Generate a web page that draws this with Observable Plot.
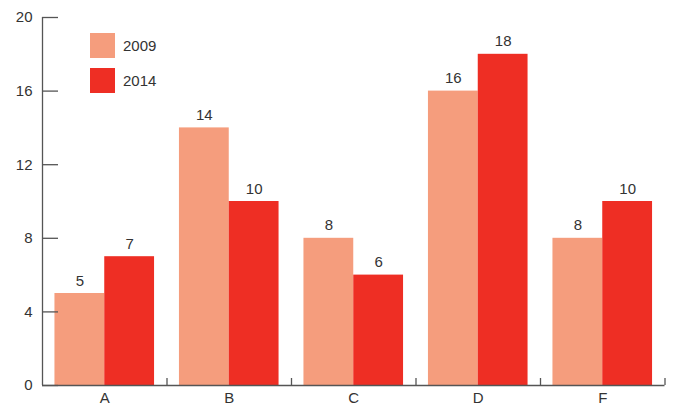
<!DOCTYPE html>
<html>
<head>
<meta charset="utf-8">
<script src="https://cdn.jsdelivr.net/npm/d3@7"></script>
<script src="https://cdn.jsdelivr.net/npm/@observablehq/plot@0.6"></script>
<style>
  body { margin: 0; background: #fff; }
  #wrap { position: relative; width: 673px; height: 408px; font-family: "Liberation Sans", Arial, sans-serif; color: #333; }
  #legend { position: absolute; left: 90px; top: 33px; font-size: 15px; }
  .item { display: flex; align-items: center; height: 25px; margin-bottom: 10px; }
  .sw { width: 25px; height: 25px; margin-right: 8px; }
</style>
</head>
<body>
<div id="wrap"></div>
<script>
const categories = ["A", "B", "C", "D", "F"];
const years = ["2009", "2014"];
const values2009 = [5, 14, 8, 16, 8];
const values2014 = [7, 10, 6, 18, 10];
const colors = ["#F59D7D", "#EE2E24"];
const yTicks = [0, 4, 8, 12, 16, 20];

const data = categories.flatMap((c, i) => [
  {i, c, year: years[0], v: values2009[i], x1: i - 0.4, x2: i},
  {i, c, year: years[1], v: values2014[i], x1: i, x2: i + 0.4}
]);

const axisColor = "#555";

const chart = Plot.plot({
  width: 673,
  height: 408,
  marginLeft: 42,
  marginRight: 8.5,
  marginTop: 17,
  marginBottom: 23,
  style: {fontFamily: '"Liberation Sans", Arial, sans-serif', fontSize: "15px", color: "#333", background: "#fff"},
  x: {domain: [-0.5, categories.length - 0.5], axis: null},
  y: {domain: [0, 20], axis: null},
  color: {domain: years, range: colors},
  marks: [
    Plot.rectY(data, {x1: "x1", x2: "x2", y1: 0, y2: "v", fill: "year"}),
    Plot.text(data, {x: d => (d.x1 + d.x2) / 2, y: "v", text: d => String(d.v), lineAnchor: "bottom", dy: -8, fill: "#333"}),
    Plot.ruleY([0], {stroke: axisColor, strokeWidth: 1.3}),
    Plot.ruleX([-0.5], {y1: 0, y2: 20, stroke: axisColor, strokeWidth: 1.3}),
    Plot.axisY({ticks: yTicks, tickSize: -16, tickPadding: 26, stroke: axisColor, strokeWidth: 1.3, fill: "#333", label: null}),
    Plot.axisX({ticks: categories.map((c, i) => i + 0.5), tickSize: -7, tickFormat: () => "", stroke: axisColor, strokeWidth: 1.3, label: null}),
    Plot.axisX({ticks: categories.map((c, i) => i), tickSize: 0, tickPadding: 7, tickFormat: i => categories[i], fill: "#333", label: null})
  ]
});

const wrap = document.getElementById("wrap");
wrap.appendChild(chart);
const legend = document.createElement("div");
legend.id = "legend";
years.forEach((y, k) => {
  const item = document.createElement("div");
  item.className = "item";
  item.innerHTML = `<div class="sw" style="background:${colors[k]}"></div><span>${y}</span>`;
  legend.appendChild(item);
});
wrap.appendChild(legend);
</script>
</body>
</html>
